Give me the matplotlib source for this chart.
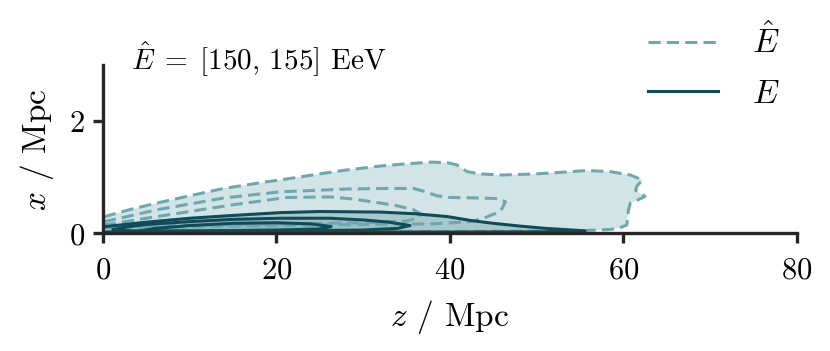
import numpy as np
import matplotlib
matplotlib.use("Agg")
import matplotlib.pyplot as plt

# contour outlines, (z, x) in Mpc
# E-hat (reconstructed energy), dashed, outer -> inner
ehat_z1 = [-2, 0.2, 3, 6.2, 10, 13.9, 18.5, 21.2, 25, 28.1, 32, 35, 38, 39.7, 40.8, 42, 43.5, 46, 50, 53, 55.8,
           58.5, 60.8, 62.2, 61.6, 61.4, 62.5, 61.6, 60.8, 60.6, 60.5, 60.4, 59.6, 58.5, 55, 50, 30, 10, -2]
ehat_x1 = [0.27, 0.30, 0.42, 0.54, 0.67, 0.80, 0.91, 0.97, 1.06, 1.13, 1.20, 1.24, 1.27, 1.26, 1.22, 1.10, 1.06,
           1.04, 1.06, 1.09, 1.12, 1.10, 1.04, 0.95, 0.85, 0.77, 0.66, 0.59, 0.54, 0.42, 0.30, 0.15, 0.10, 0.07,
           0.05, 0.04, 0.03, 0.03, 0.03]
ehat_z2 = [-2, 0.2, 6.2, 13.9, 20.4, 28.1, 32, 35.8, 37, 38.5, 40, 43.5, 45.5, 46.4, 46.1, 45.8, 43.9, 42.4, 38,
           30, 20, 10, 0, -2]
ehat_x2 = [0.18, 0.21, 0.42, 0.63, 0.74, 0.79, 0.80, 0.80, 0.75, 0.67, 0.64, 0.63, 0.62, 0.565, 0.47, 0.39,
           0.27, 0.21, 0.17, 0.16, 0.14, 0.12, 0.10, 0.10]
ehat_z3 = [-2, 0.2, 5, 10, 15, 21.2, 26.2, 29, 32, 34, 35.8, 36.6, 36.4, 35, 30, 20, 10, 0, -2]
ehat_x3 = [0.12, 0.15, 0.27, 0.39, 0.51, 0.64, 0.65, 0.61, 0.54, 0.49, 0.42, 0.35, 0.28, 0.22, 0.19, 0.17, 0.15,
           0.13, 0.13]

# E (true energy), solid, outer -> inner
e_z1 = [-2, 0.2, 5, 10, 15, 20.4, 25, 32, 36, 39.7, 42.4, 45, 48.1, 51, 54.7, 55.6, 54, 40, 20, 0, -2]
e_x1 = [0.10, 0.12, 0.20, 0.27, 0.32, 0.37, 0.39, 0.38, 0.35, 0.30, 0.23, 0.18, 0.13, 0.09, 0.055, 0.04, 0.03,
        0.025, 0.025, 0.025, 0.025]
e_z2 = [1.2, 2.5, 5, 10, 15, 20.4, 26.2, 30, 33, 35.4, 34, 30, 20, 10, 4, 1.8, 1.2]
e_x2 = [0.07, 0.11, 0.16, 0.21, 0.25, 0.27, 0.27, 0.24, 0.20, 0.14, 0.09, 0.06, 0.045, 0.04, 0.045, 0.055, 0.07]
e_z3 = [4.3, 6, 10, 15, 20, 24, 26.3, 25, 20, 15, 10, 6, 4.3]
e_x3 = [0.045, 0.09, 0.14, 0.18, 0.19, 0.17, 0.12, 0.08, 0.06, 0.05, 0.045, 0.04, 0.045]

xticks = [0, 20, 40, 60, 80]
yticks = [0, 2]

c_hat = "#6fa7b0"
c_true = "#104b59"
fill_hat = "#d3e4e6"
fill_true = ["#aac8cb", "#9fc0c3", "#93b8bc"]

plt.rcParams["font.family"] = "serif"
plt.rcParams["font.serif"] = ["cmr10"]
plt.rcParams["mathtext.fontset"] = "cm"
plt.rcParams["axes.formatter.use_mathtext"] = True
plt.rcParams["axes.unicode_minus"] = False

fig = plt.figure(figsize=(8.3, 3.51), dpi=100)
ax = fig.add_axes([0.124, 0.335, 0.836, 0.48])

# fills first
ax.fill(ehat_z1, ehat_x1, color=fill_hat, lw=0, zorder=1)
ax.fill(e_z1, e_x1, color=fill_true[0], lw=0, zorder=2)
ax.fill(e_z2, e_x2, color=fill_true[1], lw=0, zorder=2)
ax.fill(e_z3, e_x3, color=fill_true[2], lw=0, zorder=2)

lw = 2.2
dash = (0, (4.0, 2.0))
for zz, xx in [(ehat_z1, ehat_x1), (ehat_z2, ehat_x2), (ehat_z3, ehat_x3)]:
    ax.plot(zz + [zz[0]], xx + [xx[0]], color=c_hat, lw=lw, ls=dash, zorder=3)
for zz, xx in [(e_z1, e_x1), (e_z2, e_x2), (e_z3, e_x3)]:
    ax.plot(zz + [zz[0]], xx + [xx[0]], color=c_true, lw=lw, zorder=4)

ax.set_xlim(0, 80)
ax.set_ylim(0, 3)
ax.set_xticks(xticks)
ax.set_yticks(yticks)
for s in ["top", "right"]:
    ax.spines[s].set_visible(False)
for s in ["left", "bottom"]:
    ax.spines[s].set_linewidth(2.4)
    ax.spines[s].set_color("#262626")
    ax.spines[s].set_zorder(5)
ax.tick_params(length=7, width=2.4, color="#262626", labelsize=22)
ax.tick_params(axis="x", pad=10)
ax.tick_params(axis="y", pad=6)
ax.set_xlabel("$z$ / Mpc", fontsize=24, labelpad=10)
ax.set_ylabel("$x$ / Mpc", fontsize=24, labelpad=9)

ax.text(0.04, 1.04, r"$\hat{E}\;=\;[150,\,155]$ EeV", transform=ax.transAxes,
        fontsize=21, va="center", ha="left")

h1, = ax.plot([], [], color=c_hat, lw=lw, ls=dash, label=r"$\hat{E}$")
h2, = ax.plot([], [], color=c_true, lw=lw, label=r"$E$")
fig.legend(handles=[h1, h2], loc="upper left", bbox_to_anchor=(0.745, 1.02), frameon=False,
           fontsize=24, handlelength=2.1, handletextpad=1.0, labelspacing=0.6)

fig.savefig("out.png", dpi=100)
